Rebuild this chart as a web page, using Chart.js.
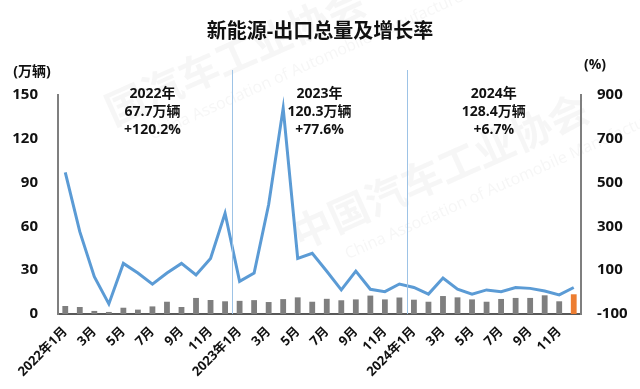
<!DOCTYPE html>
<html>
<head>
<meta charset="utf-8">
<script src="https://cdn.jsdelivr.net/npm/chart.js@4/dist/chart.umd.min.js"></script>
<style>
html,body{margin:0;padding:0;background:#fff;}
#wrap{width:640px;height:389px;position:relative;}
</style>
</head>
<body>
<div id="wrap"><canvas id="c"></canvas></div>
<script>
// ---- data ----
const months = [
  "2022年1月","2月","3月","4月","5月","6月","7月","8月","9月","10月","11月","12月",
  "2023年1月","2月","3月","4月","5月","6月","7月","8月","9月","10月","11月","12月",
  "2024年1月","2月","3月","4月","5月","6月","7月","8月","9月","10月","11月","12月"
];
// monthly export volume (万辆)
const exportVolume = [
  5.5, 4.8, 2.1, 1.4, 4.3, 3.0, 5.2, 8.4, 4.8, 11.0, 9.6, 8.7,
  9.0, 9.5, 8.2, 10.2, 11.4, 8.4, 10.4, 9.4, 10.0, 12.6, 10.0, 11.3,
  9.8, 8.4, 12.3, 11.4, 10.0, 8.4, 10.3, 11.0, 11.0, 12.8, 8.7, 13.5
];
// year-on-year growth (%)
const growthRate = [
  547, 276, 70, -54, 131, 87, 36, 87, 131, 78, 154, 360,
  49, 87, 400, 840, 154, 177, 95, 10, 96, 13, 2, 37,
  21, -9, 64, 13, -10, 10, 2, 21, 17, 5, -13, 21
];
const yearNotes = [
  ["2022年", "67.7万辆", "+120.2%"],
  ["2023年", "120.3万辆", "+77.6%"],
  ["2024年", "128.4万辆", "+6.7%"]
];
const leftTicks = [0, 30, 60, 90, 120, 150];
const rightTicks = [-100, 100, 300, 500, 700, 900];

const FONT = "'Open Sans','Noto Sans CJK SC',sans-serif";
const barColors = exportVolume.map((v, i) => i === exportVolume.length - 1 ? '#ED7D31' : '#7F7F7F');

const overlay = {
  id: 'overlay',
  beforeDraw(chart) {
    const ctx = chart.ctx;
    ctx.save();
    ctx.fillStyle = 'rgba(170,170,170,0.10)';
    ctx.font = "bold 40px 'Noto Sans CJK SC'";
    ctx.translate(150, 110);
    ctx.rotate(-0.42);
    ctx.fillText('国汽车工业协会', -40, 0);
    ctx.font = "16px 'Open Sans'";
    ctx.fillText('China Association of Automobile Manufacturers', -10, 28);
    ctx.restore();
    ctx.save();
    ctx.fillStyle = 'rgba(170,170,170,0.10)';
    ctx.font = "bold 40px 'Noto Sans CJK SC'";
    ctx.translate(300, 250);
    ctx.rotate(-0.42);
    ctx.fillText('中国汽车工业协会', 0, 0);
    ctx.font = "16px 'Open Sans'";
    ctx.fillText('China Association of Automobile Manufacturers', 40, 28);
    ctx.restore();
  },
  afterDatasetsDraw(chart) {
    const ctx = chart.ctx;
    const x = chart.scales.x;
    const area = chart.chartArea;
    ctx.save();
    // year dividers
    ctx.strokeStyle = '#9DC3E6';
    ctx.lineWidth = 1;
    [11.5, 23.5].forEach(v => {
      const px = Math.round(x.getPixelForValue(v)) + 0.5;
      ctx.beginPath();
      ctx.moveTo(px, area.top - 25);
      ctx.lineTo(px, area.bottom);
      ctx.stroke();
    });
    // year notes
    ctx.fillStyle = '#111';
    ctx.font = "bold 14px " + FONT;
    ctx.textAlign = 'center';
    ctx.textBaseline = 'middle';
    const centers = [6.0, 17.5, 29.5];
    yearNotes.forEach((lines, k) => {
      const cx = x.getPixelForValue(centers[k]);
      lines.forEach((t, j) => ctx.fillText(t, cx, area.top - 1 + j * 18));
    });
    // unit labels
    ctx.font = "bold 14px " + FONT;
    ctx.fillText('(万辆)', 32, area.top - 23);
    ctx.fillText('(%)', 595, area.top - 30);
    ctx.restore();
  }
};

new Chart(document.getElementById('c'), {
  type: 'bar',
  data: {
    labels: months,
    datasets: [
      {
        type: 'line',
        label: '增长率',
        data: growthRate,
        yAxisID: 'y1',
        borderColor: '#5B9BD5',
        borderWidth: 3,
        pointRadius: 0,
        tension: 0,
        order: 0
      },
      {
        type: 'bar',
        label: '出口量',
        data: exportVolume,
        yAxisID: 'y',
        backgroundColor: barColors,
        categoryPercentage: 1,
        barPercentage: 0.4,
        order: 1
      }
    ]
  },
  options: {
    responsive: true,
    maintainAspectRatio: false,
    animation: false,
    devicePixelRatio: 1,
    layout: { padding: { left: 8, right: 8, top: 0, bottom: 0 } },
    plugins: {
      legend: { display: false },
      tooltip: { enabled: false },
      title: {
        display: true,
        text: '新能源-出口总量及增长率',
        color: '#111',
        font: { family: FONT, size: 20, weight: 'bold' },
        padding: { top: 20, bottom: 51 }
      }
    },
    scales: {
      x: {
        grid: { display: false, drawTicks: false },
        border: { display: true, color: '#595959', width: 2 },
        afterFit: s => { s.paddingLeft = 0; s.paddingRight = 0; s.height = 75; },
        ticks: {
          autoSkip: false,
          maxRotation: 45,
          minRotation: 45,
          padding: 10,
          color: '#111',
          font: { family: FONT, size: 13, weight: 'bold' },
          callback: (v, i) => (i % 2 === 0 ? months[i] : '')
        }
      },
      y: {
        position: 'left',
        min: 0,
        max: 150,
        afterBuildTicks: s => { s.ticks = leftTicks.map(v => ({ value: v })); },
        afterFit: s => { s.width = 50; },
        grid: { display: false, drawTicks: false },
        border: { display: true, color: '#7F7F7F', width: 2 },
        ticks: {
          padding: 20,
          color: '#111',
          font: { family: FONT, size: 15, weight: 'bold' }
        }
      },
      y1: {
        position: 'right',
        min: -100,
        max: 900,
        afterBuildTicks: s => { s.ticks = rightTicks.map(v => ({ value: v })); },
        afterFit: s => { s.width = 51; },
        grid: { display: false, drawTicks: false },
        border: { display: true, color: '#7F7F7F', width: 2 },
        ticks: {
          padding: 16,
          color: '#111',
          font: { family: FONT, size: 15, weight: 'bold' }
        }
      }
    }
  },
  plugins: [overlay]
});
</script>
</body>
</html>
